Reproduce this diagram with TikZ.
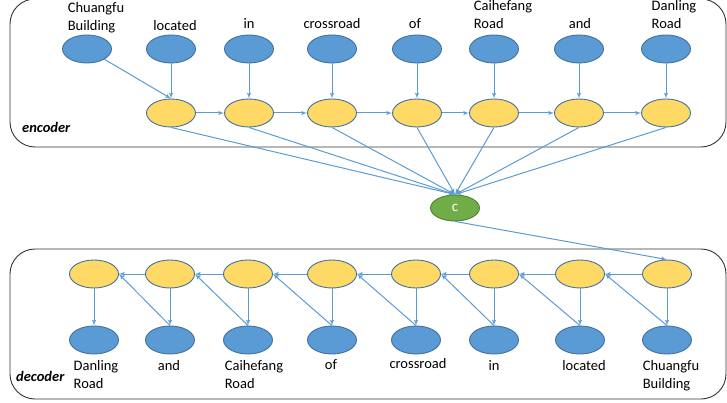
\documentclass[tikz,border=0pt]{standalone}
\usepackage{fontspec}
\setmainfont{Carlito}
\usepackage{xcolor}
\usepackage{tikz}
\usetikzlibrary{shapes,arrows}
\definecolor{wordblue}{HTML}{5B9BD5}
\definecolor{edgeblue}{HTML}{41719C}
\definecolor{stateyellow}{HTML}{FFD966}
\definecolor{ctxgreen}{HTML}{70AD47}
\definecolor{edgegreen}{HTML}{507E32}
\tikzstyle{word} = [ellipse, draw=edgeblue, fill=wordblue, line width=0.9pt, inner sep=0pt, minimum width=49pt, minimum height=28pt]
\tikzstyle{state} = [ellipse, draw=edgeblue, fill=stateyellow, line width=0.9pt, inner sep=0pt, minimum width=49pt, minimum height=28pt]
\tikzstyle{context} = [ellipse, draw=edgegreen, fill=ctxgreen, line width=0.9pt, inner sep=0pt, minimum width=49pt, minimum height=26pt, text=white, font=\fontsize{15}{17}\selectfont]
\tikzstyle{line} = [draw=wordblue, -latex', line width=1pt]
\tikzstyle{lbl} = [align=left, inner sep=0pt, anchor=base, font=\fontsize{14.5}{18}\selectfont]
\tikzstyle{panel} = [draw=black!80, line width=0.9pt, rounded corners=25pt]

\begin{document}
\begin{tikzpicture}[x=1pt, y=-1pt]
\useasboundingbox (0,0) rectangle (727,403);

% encoder
\path [panel] (10,-1) rectangle (726,147);
\node [anchor=base west, inner sep=0pt, font=\fontsize{14.5}{18}\selectfont\bfseries\itshape] (enc) at (22,133) {encoder};

\node [word] (x1) at (87,49) {};
\node [word] (x2) at (171,49) {};
\node [word] (x3) at (249,49) {};
\node [word] (x4) at (332,49) {};
\node [word] (x5) at (417,49) {};
\node [word] (x6) at (494,49) {};
\node [word] (x7) at (579,49) {};
\node [word] (x8) at (666,49) {};

\node [lbl] (tx1) at (96,31) {Chuangfu\\Building};
\node [lbl] (tx2) at (175,31) {located};
\node [lbl] (tx3) at (249,29) {in};
\node [lbl] (tx4) at (332,29) {crossroad};
\node [lbl] (tx5) at (415,29) {of};
\node [lbl] (tx6) at (503,29) {Caihefang\\Road};
\node [lbl] (tx7) at (580,29) {and};
\node [lbl] (tx8) at (674,29) {Danling\\Road};

\node [state] (h1) at (171,113) {};
\node [state] (h2) at (249,113) {};
\node [state] (h3) at (332,113) {};
\node [state] (h4) at (417,113) {};
\node [state] (h5) at (494,113) {};
\node [state] (h6) at (579,113) {};
\node [state] (h7) at (666,113) {};

\path [line] (x1) -- (h1.north);
\path [line] (x2.south) -- (h1.north);
\path [line] (x3.south) -- (h2.north);
\path [line] (x4.south) -- (h3.north);
\path [line] (x5.south) -- (h4.north);
\path [line] (x6.south) -- (h5.north);
\path [line] (x7.south) -- (h6.north);
\path [line] (x8.south) -- (h7.north);

\path [line] (h1.east) -- (h2.west);
\path [line] (h2.east) -- (h3.west);
\path [line] (h3.east) -- (h4.west);
\path [line] (h4.east) -- (h5.west);
\path [line] (h5.east) -- (h6.west);
\path [line] (h6.east) -- (h7.west);

% context vector
\node [context] (c) at (455,208) {c};

\path [line] (h1.south) -- (c.north);
\path [line] (h2.south) -- (c.north);
\path [line] (h3.south) -- (c.north);
\path [line] (h4.south) -- (c.north);
\path [line] (h5.south) -- (c.north);
\path [line] (h6.south) -- (c.north);
\path [line] (h7.south) -- (c.north);

% decoder
\path [panel] (10,249) rectangle (726,399);
\node [anchor=base west, inner sep=0pt, font=\fontsize{14.5}{18}\selectfont\bfseries\itshape] (dec) at (16,381) {decoder};

\node [state] (s1) at (94,274) {};
\node [state] (s2) at (170,274) {};
\node [state] (s3) at (248,274) {};
\node [state] (s4) at (332,274) {};
\node [state] (s5) at (416,274) {};
\node [state] (s6) at (494,274) {};
\node [state] (s7) at (580,274) {};
\node [state] (s8) at (667,274) {};

\node [word] (y1) at (94,340) {};
\node [word] (y2) at (170,340) {};
\node [word] (y3) at (248,340) {};
\node [word] (y4) at (332,340) {};
\node [word] (y5) at (416,340) {};
\node [word] (y6) at (494,340) {};
\node [word] (y7) at (580,340) {};
\node [word] (y8) at (667,340) {};

\node [lbl] (ty1) at (96,388) {Danling\\Road};
\node [lbl] (ty2) at (169,370) {and};
\node [lbl] (ty3) at (254,388) {Caihefang\\Road};
\node [lbl] (ty4) at (331,369) {of};
\node [lbl] (ty5) at (418,368) {crossroad};
\node [lbl] (ty6) at (494,370) {in};
\node [lbl] (ty7) at (584,370) {located};
\node [lbl] (ty8) at (671,388) {Chuangfu\\Building};

\path [line] (c.south) -- (s8.north);

\path [line] (s8.west) -- (s7.east);
\path [line] (s7.west) -- (s6.east);
\path [line] (s6.west) -- (s5.east);
\path [line] (s5.west) -- (s4.east);
\path [line] (s4.west) -- (s3.east);
\path [line] (s3.west) -- (s2.east);
\path [line] (s2.west) -- (s1.east);

\path [line] (y8.north) -- (s7.east);
\path [line] (y7.north) -- (s6.east);
\path [line] (y6.north) -- (s5.east);
\path [line] (y5.north) -- (s4.east);
\path [line] (y4.north) -- (s3.east);
\path [line] (y3.north) -- (s2.east);
\path [line] (y2.north) -- (s1.east);

\path [line] (s1.south) -- (y1.north);
\path [line] (s2.south) -- (y2.north);
\path [line] (s3.south) -- (y3.north);
\path [line] (s4.south) -- (y4.north);
\path [line] (s5.south) -- (y5.north);
\path [line] (s6.south) -- (y6.north);
\path [line] (s7.south) -- (y7.north);
\path [line] (s8.south) -- (y8.north);

\end{tikzpicture}
\end{document}
